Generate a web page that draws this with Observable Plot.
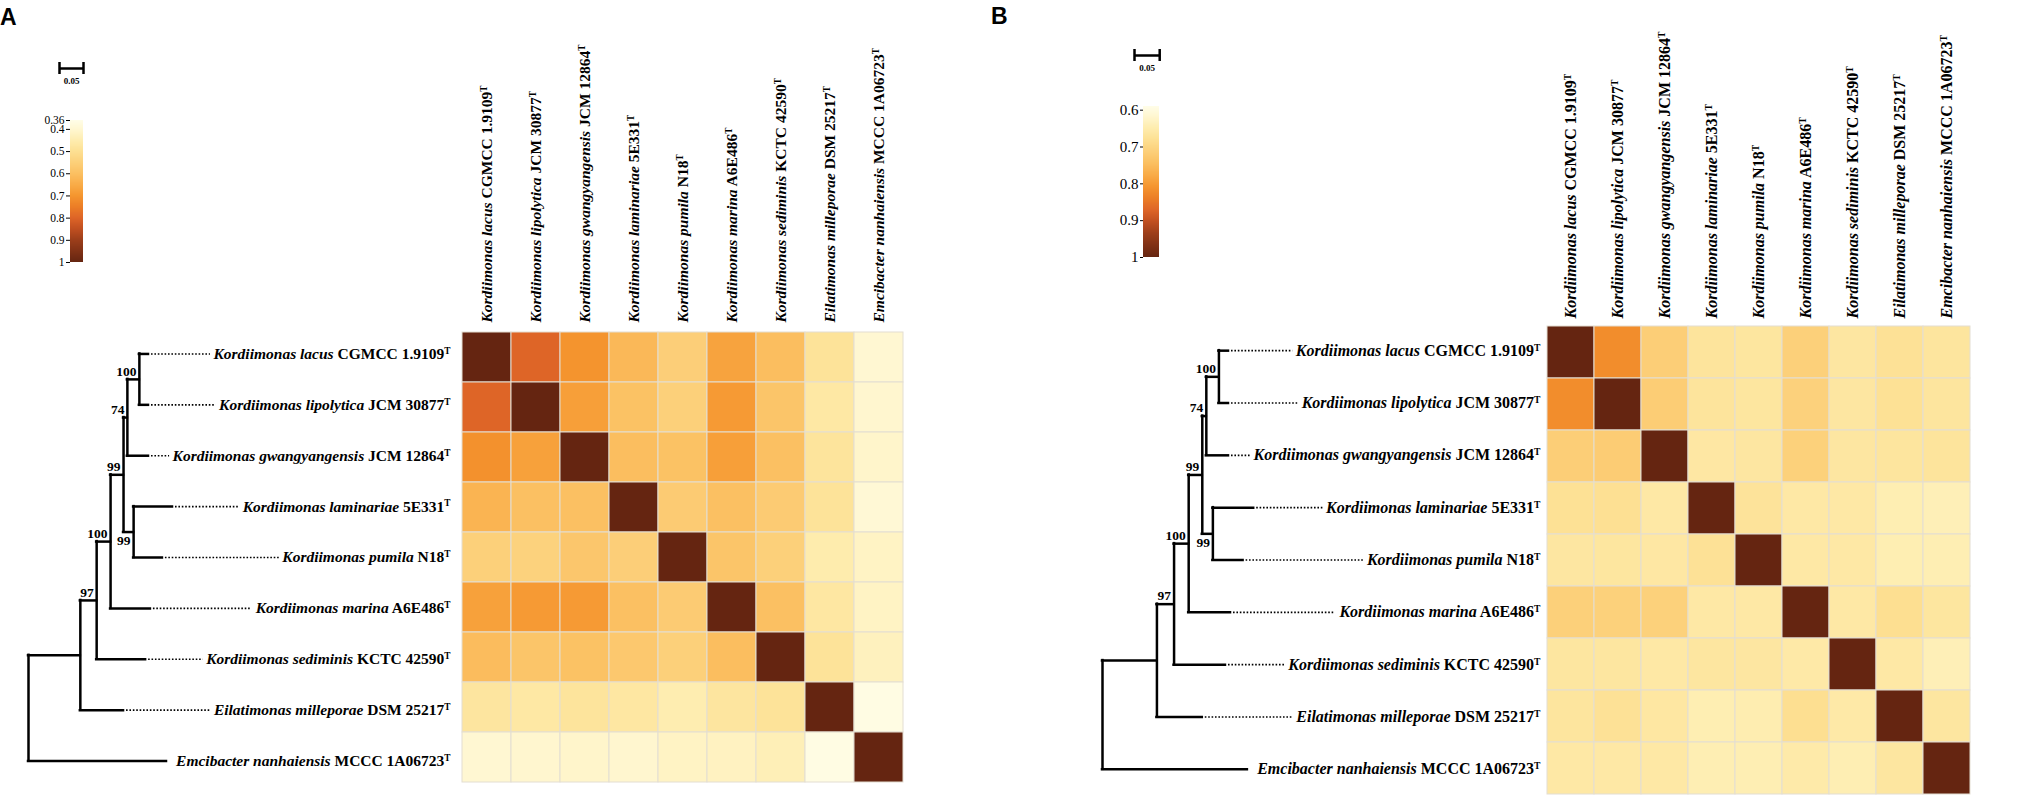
<!DOCTYPE html>
<html>
<head>
<meta charset="utf-8">
<script src="https://cdn.jsdelivr.net/npm/d3@7"></script>
<script src="https://cdn.jsdelivr.net/npm/@observablehq/plot@0.6"></script>
<style>
  html, body { margin: 0; padding: 0; background: #fff; }
  #root { position: relative; width: 2033px; height: 799px; overflow: hidden; background: #fff; }
  #root svg { position: absolute; top: 0; left: 0; overflow: visible; background: transparent; }
  .panel-letter { position: absolute; font: bold 23px "Liberation Sans", Arial, sans-serif; line-height: 23px; color: #000; }
  .cbar text { font-family: "Liberation Serif", "Times New Roman", serif !important; fill: #000; }
</style>
</head>
<body>
<div id="root"></div>
<script>
// ---------------- DATA ----------------
const taxa = [
  "Kordiimonas lacus", "Kordiimonas lipolytica", "Kordiimonas gwangyangensis",
  "Kordiimonas laminariae", "Kordiimonas pumila", "Kordiimonas marina",
  "Kordiimonas sediminis", "Eilatimonas milleporae", "Emcibacter nanhaiensis"
];
const strains = ["CGMCC 1.9109", "JCM 30877", "JCM 12864", "5E331", "N18", "A6E486", "KCTC 42590", "DSM 25217", "MCCC 1A06723"];
const typeStrainMark = "T";

// tree (rooted, branch lengths in substitutions/site)
const nodeIds     = ["root", "n1", "n97", "n100b", "n99a", "n74", "n100a", "n99b", "t0", "t1", "t2", "t3", "t4", "t5", "t6", "t7", "t8"];
const nodeParents = [null, "root", "n1", "n97", "n100b", "n99a", "n74", "n99a", "n100a", "n100a", "n74", "n99b", "n99b", "n100b", "n97", "n1", "root"];
const branchLengths = [0, 0.108, 0.034, 0.029, 0.027, 0.008, 0.025, 0.021, 0.019, 0.019, 0.044, 0.081, 0.060, 0.083, 0.102, 0.090, 0.2875];
const bootstrap   = [null, null, 97, 100, 99, 74, 100, 99, null, null, null, null, null, null, null, null, null];
const scaleBarLength = 0.05;

// Panel A matrix (rows/cols in taxa order)
const valuesA = [
  [1.000, 0.800, 0.705, 0.620, 0.555, 0.670, 0.605, 0.490, 0.400],
  [0.800, 1.000, 0.680, 0.595, 0.550, 0.690, 0.585, 0.470, 0.405],
  [0.710, 0.675, 1.000, 0.605, 0.595, 0.680, 0.600, 0.485, 0.410],
  [0.630, 0.600, 0.600, 1.000, 0.565, 0.600, 0.565, 0.490, 0.395],
  [0.550, 0.545, 0.580, 0.555, 1.000, 0.585, 0.550, 0.455, 0.420],
  [0.675, 0.690, 0.690, 0.600, 0.565, 1.000, 0.600, 0.475, 0.420],
  [0.610, 0.585, 0.595, 0.575, 0.550, 0.605, 1.000, 0.490, 0.430],
  [0.480, 0.470, 0.485, 0.475, 0.450, 0.480, 0.490, 1.000, 0.370],
  [0.400, 0.405, 0.410, 0.405, 0.420, 0.425, 0.440, 0.370, 1.000]
];
// Panel B matrix
const valuesB = [
  [1.000, 0.820, 0.716, 0.670, 0.666, 0.712, 0.664, 0.676, 0.668],
  [0.820, 1.000, 0.718, 0.670, 0.666, 0.709, 0.664, 0.678, 0.668],
  [0.716, 0.720, 1.000, 0.662, 0.664, 0.710, 0.664, 0.668, 0.670],
  [0.678, 0.680, 0.660, 1.000, 0.672, 0.660, 0.660, 0.646, 0.641],
  [0.664, 0.666, 0.662, 0.676, 1.000, 0.660, 0.660, 0.646, 0.645],
  [0.712, 0.710, 0.710, 0.660, 0.660, 1.000, 0.660, 0.682, 0.666],
  [0.665, 0.665, 0.660, 0.665, 0.664, 0.658, 1.000, 0.660, 0.641],
  [0.668, 0.676, 0.663, 0.646, 0.648, 0.682, 0.658, 1.000, 0.665],
  [0.660, 0.660, 0.660, 0.645, 0.645, 0.655, 0.645, 0.665, 1.000]
];
const colorbarTicksA = [0.36, 0.4, 0.5, 0.6, 0.7, 0.8, 0.9, 1];
const colorbarTicksB = [0.6, 0.7, 0.8, 0.9, 1];
const colorDomainA = [0.36, 1];
const colorDomainB = [0.59, 1];

// ---------------- STYLE / LAYOUT ----------------
const W = 2033, H = 799;
const serif = '"Liberation Serif", "Times New Roman", Times, serif';
const rampT = [0, 0.0625, 0.140625, 0.21875, 0.296875, 0.375, 0.453, 0.531, 0.609, 0.6875, 0.766, 0.844, 1];
const rampColors = ["#fffde8", "#fff7d2", "#feedb0", "#fde093", "#fcd07a", "#fbc062", "#f9ac48", "#f5962f", "#ec7e26", "#de6527", "#c04f20", "#9c3e1a", "#652511"];

const panels = [
  {
    letter: "A", letterLeft: 0, letterTop: 5.5, values: valuesA, colorDomain: colorDomainA,
    rootX: 28, ppu: 480, labelEnd: 450, labelFont: 15.5,
    heat: {x0: 458, x1: 907, y0: 328, y1: 786},
    cb: {x0: 70, x1: 83, y0: 120, y1: 262, ticks: colorbarTicksA, font: 11.5, tick: 4},
    sb: {x: 59, y: 68}
  },
  {
    letter: "B", letterLeft: 991, letterTop: 4.5, values: valuesB, colorDomain: colorDomainB,
    rootX: 1102, ppu: 504, labelEnd: 1540, labelFont: 16,
    heat: {x0: 1546, x1: 1971, y0: 324, y1: 795},
    cb: {x0: 1143, x1: 1159, y0: 106, y1: 257, ticks: colorbarTicksB, font: 15, tick: 3},
    sb: {x: 1134, y: 55}
  }
];

// ---------------- HELPERS ----------------
const labels = taxa.map((s, i) => `${s} ${strains[i]}${typeStrainMark}`);
const labelIndex = new Map(labels.map((l, i) => [l, i]));

const parentOf = new Map(nodeIds.map((id, i) => [id, nodeParents[i]]));
const lenOf = new Map(nodeIds.map((id, i) => [id, branchLengths[i]]));
const childrenOf = new Map(nodeIds.map(id => [id, []]));
nodeIds.forEach((id, i) => { if (nodeParents[i]) childrenOf.get(nodeParents[i]).push(id); });
const depth = new Map();
function getDepth(id) {
  if (depth.has(id)) return depth.get(id);
  const p = parentOf.get(id);
  const d = p ? getDepth(p) + lenOf.get(id) : 0;
  depth.set(id, d); return d;
}
const yPos = new Map();
function getY(id) {
  if (yPos.has(id)) return yPos.get(id);
  let y;
  if (id.startsWith("t")) y = +id.slice(1);
  else { const ys = childrenOf.get(id).map(getY); y = (d3.min(ys) + d3.max(ys)) / 2; }
  yPos.set(id, y); return y;
}
nodeIds.forEach(id => { getDepth(id); getY(id); });
const nodes = nodeIds.map((id, i) => ({id, parent: nodeParents[i], depth: depth.get(id), y: yPos.get(id), support: bootstrap[i]}));
const edges = nodes.filter(n => n.parent).map(n => ({x1: depth.get(n.parent), x2: n.depth, y: n.y}));
const verticals = nodes.filter(n => childrenOf.get(n.id).length).map(n => {
  const ys = childrenOf.get(n.id).map(c => yPos.get(c));
  return {x: n.depth, y1: d3.min(ys), y2: d3.max(ys)};
});
const tips = nodes.filter(n => n.id.startsWith("t")).map(n => ({...n, idx: +n.id.slice(1), label: labels[+n.id.slice(1)]}));
const supports = nodes.filter(n => n.support != null);

const ctx = document.createElement("canvas").getContext("2d");
function labelWidth(i, fs) {
  ctx.font = `italic bold ${fs}px "Liberation Serif"`;
  let w = ctx.measureText(taxa[i]).width;
  ctx.font = `bold ${fs}px "Liberation Serif"`;
  w += ctx.measureText(" " + strains[i]).width;
  ctx.font = `bold ${fs * 0.6}px "Liberation Serif"`;
  w += ctx.measureText(typeStrainMark).width;
  return w;
}

function styleLabels(svg) {
  const NS = "http://www.w3.org/2000/svg";
  svg.querySelectorAll("text").forEach(t => {
    const key = t.textContent;
    if (!labelIndex.has(key)) return;
    const i = labelIndex.get(key);
    t.textContent = "";
    const a = document.createElementNS(NS, "tspan");
    a.setAttribute("font-style", "italic"); a.textContent = taxa[i];
    const b = document.createElementNS(NS, "tspan");
    b.textContent = " " + strains[i];
    const c = document.createElementNS(NS, "tspan");
    c.setAttribute("font-size", "0.6em"); c.setAttribute("dy", "-0.55em"); c.textContent = typeStrainMark;
    t.append(a, b, c);
  });
}

const root = document.getElementById("root");

for (const P of panels) {
  const [lo, hi] = P.colorDomain;
  const colorScale = {type: "linear", domain: rampT.map(t => lo + t * (hi - lo)), range: rampColors, interpolate: "rgb", clamp: true};

  const L = document.createElement("div");
  L.className = "panel-letter"; L.textContent = P.letter;
  L.style.left = P.letterLeft + "px"; L.style.top = P.letterTop + "px";
  root.appendChild(L);

  // ---- tree ----
  const D = (P.labelEnd - P.rootX) / P.ppu;
  const leaders = tips.map(t => {
    const x1 = t.depth + 3 / P.ppu;
    const x2 = D - (labelWidth(t.idx, P.labelFont) + 3) / P.ppu;
    return {x1, x2, y: t.y};
  }).filter(l => (l.x2 - l.x1) * P.ppu > 8);

  const tree = Plot.plot({
    width: W, height: H, margin: 0,
    style: {background: "transparent", fontFamily: serif},
    x: {domain: [0, D], range: [P.rootX, P.labelEnd], axis: null},
    y: {domain: [-0.5, 8.5], range: [P.heat.y0, P.heat.y1], axis: null},
    marks: [
      Plot.ruleX(verticals, {x: "x", y1: "y1", y2: "y2", stroke: "#000", strokeWidth: 2.5, strokeLinecap: "square"}),
      Plot.ruleY(edges, {x1: "x1", x2: "x2", y: "y", stroke: "#000", strokeWidth: 2.5, strokeLinecap: "square"}),
      Plot.ruleY(leaders, {x1: "x1", x2: "x2", y: "y", stroke: "#000", strokeWidth: 1.6, strokeDasharray: "1.6,1.8"}),
      Plot.text(tips, {x: () => D, y: "y", text: "label", textAnchor: "end", lineAnchor: "middle",
        fontFamily: serif, fontWeight: "bold", fontSize: P.labelFont, fill: "#000"}),
      Plot.text(supports.filter(s => s.id !== "n99b"), {x: "depth", y: "y", text: d => String(d.support),
        textAnchor: "end", dx: -3, dy: -8, fontFamily: serif, fontWeight: "bold", fontSize: 13.5, fill: "#000"}),
      Plot.text(supports.filter(s => s.id === "n99b"), {x: "depth", y: "y", text: d => String(d.support),
        textAnchor: "end", dx: -3, dy: 9, fontFamily: serif, fontWeight: "bold", fontSize: 13.5, fill: "#000"})
    ]
  });
  styleLabels(tree);
  root.appendChild(tree);

  // ---- heatmap ----
  const cells = [];
  P.values.forEach((row, i) => row.forEach((v, j) => cells.push({row: labels[i], col: labels[j], value: v})));
  const heat = Plot.plot({
    width: W, height: H,
    marginLeft: P.heat.x0, marginRight: W - P.heat.x1, marginTop: P.heat.y0, marginBottom: H - P.heat.y1,
    style: {background: "transparent", fontFamily: serif},
    x: {type: "band", domain: labels, padding: 0, axis: null},
    y: {type: "band", domain: labels, padding: 0, axis: null},
    color: colorScale,
    marks: [
      Plot.cell(cells, {x: "col", y: "row", fill: "value", inset: 0, stroke: "#e3ded2", strokeWidth: 1}),
      Plot.text(labels, {x: d => d, frameAnchor: "top", rotate: -90, textAnchor: "start", lineAnchor: "middle", dy: -6,
        fontFamily: serif, fontWeight: "bold", fontSize: P.labelFont, fill: "#000"})
    ]
  });
  styleLabels(heat);
  root.appendChild(heat);

  // ---- colorbar ----
  const nSteps = Math.round(P.cb.y1 - P.cb.y0);
  const step = (hi - lo) / nSteps;
  const strip = d3.range(nSteps).map(k => lo + k * step);
  const cbar = Plot.plot({
    width: W, height: H,
    marginLeft: P.cb.x0, marginRight: W - P.cb.x1, marginTop: P.cb.y0, marginBottom: H - P.cb.y1,
    className: "cbar",
    style: {background: "transparent", fontFamily: serif, fontSize: P.cb.font + "px", color: "#000"},
    x: {domain: [0, 1], axis: null},
    y: {domain: [lo, hi], reverse: true, axis: null},
    color: colorScale,
    marks: [
      Plot.rect(strip, {x1: 0, x2: 1, y1: d => d, y2: d => Math.min(hi, d + step * 1.6), fill: d => d + step / 2, inset: 0}),
      Plot.axisY({anchor: "left", ticks: P.cb.ticks, tickSize: P.cb.tick, tickPadding: 2, tickFormat: d => String(d),
        label: null, fontSize: P.cb.font, fontFamily: serif})
    ]
  });
  cbar.classList.add("cbar");
  root.appendChild(cbar);

  // ---- scale bar ----
  const sbar = Plot.plot({
    width: W, height: H, margin: 0,
    style: {background: "transparent", fontFamily: serif},
    x: {domain: [0, scaleBarLength], range: [P.sb.x, P.sb.x + scaleBarLength * P.ppu], axis: null},
    y: {domain: [-1, 1], range: [P.sb.y - 6, P.sb.y + 6], axis: null},
    marks: [
      Plot.ruleY([0], {x1: 0, x2: scaleBarLength, stroke: "#000", strokeWidth: 2.5}),
      Plot.ruleX([0, scaleBarLength], {x: d => d, y1: -1, y2: 1, stroke: "#000", strokeWidth: 2.5}),
      Plot.text([scaleBarLength], {x: d => d / 2, y: () => 0, dy: 13, text: d => String(d),
        fontFamily: serif, fontWeight: "bold", fontSize: 9, fill: "#000"})
    ]
  });
  root.appendChild(sbar);
}
</script>
</body>
</html>
